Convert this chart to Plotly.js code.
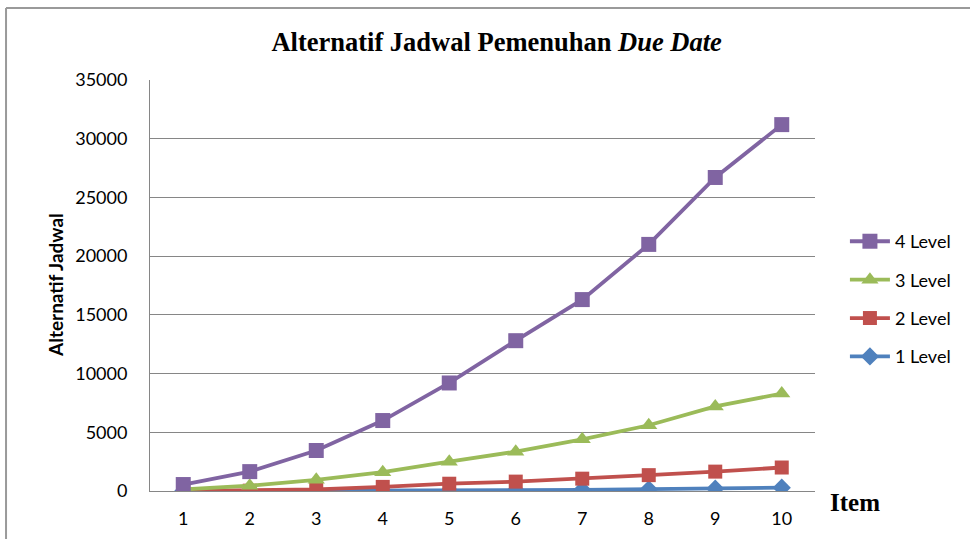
<!DOCTYPE html>
<html>
<head>
<meta charset="utf-8">
<script src="https://cdn.plot.ly/plotly-3.0.1.min.js"></script>
<style>
  html, body { margin: 0; padding: 0; background: #ffffff; }
  #chart { width: 970px; height: 539px; }
</style>
</head>
<body>
<div id="chart"></div>
<script>
// Item numbers on the horizontal axis
const items = [1, 2, 3, 4, 5, 6, 7, 8, 9, 10];

// Number of schedule alternatives per level
const level1 = [1, 2, 6, 16, 40, 70, 100, 150, 200, 280];
const level2 = [4, 30, 130, 350, 620, 800, 1050, 1350, 1650, 2000];
const level3 = [130, 450, 950, 1600, 2500, 3350, 4400, 5600, 7200, 8300];
const level4 = [550, 1650, 3450, 6000, 9200, 12800, 16300, 21000, 26700, 31200];

const seriesNames = ['1 Level', '2 Level', '3 Level', '4 Level'];
const yTicks = [0, 5000, 10000, 15000, 20000, 25000, 30000, 35000];

const bodyFont = 'Lato, "Open Sans", "Liberation Sans", sans-serif';
const serifFont = '"Liberation Serif", "Times New Roman", serif';

function series(name, values, color, symbol, size, rank) {
  return {
    type: 'scatter',
    mode: 'lines+markers',
    name: name,
    x: items,
    y: values,
    legendgroup: name,
    legendrank: rank,
    line: { color: color, width: 3.8 },
    marker: { color: color, symbol: symbol, size: size }
  };
}

// drawn 1 → 4 so the highest level sits on top; listed 4 → 1 in the legend
const traces = [
  series(seriesNames[0], level1, '#4F81BD', 'diamond', 14, 4),
  series(seriesNames[1], level2, '#C0504D', 'square', 14, 3),
  series(seriesNames[2], level3, '#9BBB59', 'triangle-up', 15, 2),
  series(seriesNames[3], level4, '#8064A2', 'square', 15, 1)
];

const layout = {
  width: 970,
  height: 539,
  margin: { l: 150, r: 155, t: 80, b: 48 },
  paper_bgcolor: '#ffffff',
  plot_bgcolor: '#ffffff',
  showlegend: true,
  title: {
    text: '<b>Alternatif Jadwal Pemenuhan <i>Due Date</i></b>',
    font: { family: serifFont, size: 26.5, color: '#000000' },
    x: 0.512,
    xanchor: 'center',
    y: 0.922,
    yanchor: 'middle'
  },
  xaxis: {
    range: [0.5, 10.5],
    tickmode: 'array',
    tickvals: items,
    ticktext: items.map(String),
    showgrid: false,
    zeroline: false,
    showline: true,
    linecolor: '#868686',
    linewidth: 1,
    ticks: '',
    ticklabelstandoff: 11,
    tickfont: { family: bodyFont, size: 18, color: '#000000' },
    fixedrange: true
  },
  yaxis: {
    range: [0, 35000],
    tickmode: 'array',
    tickvals: yTicks,
    ticktext: yTicks.map(String),
    showgrid: true,
    gridcolor: '#868686',
    gridwidth: 1,
    zeroline: false,
    showline: true,
    linecolor: '#868686',
    linewidth: 1,
    ticks: '',
    ticklabelstandoff: 18,
    tickfont: { family: bodyFont, size: 18, color: '#000000' },
    fixedrange: true
  },
  legend: {
    x: 1.045,
    xanchor: 'left',
    y: 0.652,
    yanchor: 'top',
    traceorder: 'grouped',
    tracegroupgap: 12,
    font: { family: bodyFont, size: 18, color: '#000000' },
    bgcolor: 'rgba(0,0,0,0)',
    itemwidth: 40
  },
  annotations: [
    {
      text: '<b>Alternatif Jadwal</b>',
      xref: 'paper', yref: 'paper',
      x: -0.143, y: 0.501,
      xanchor: 'center', yanchor: 'middle',
      textangle: -90,
      showarrow: false,
      font: { family: bodyFont, size: 19, color: '#000000' }
    },
    {
      text: '<b>Item</b>',
      xref: 'paper', yref: 'paper',
      x: 1.02, y: -0.027,
      xanchor: 'left', yanchor: 'middle',
      showarrow: false,
      font: { family: serifFont, size: 25, color: '#000000' }
    }
  ],
  shapes: [
    // outer chart frame (left and top edges)
    {
      type: 'line', xref: 'paper', yref: 'paper', layer: 'below',
      x0: -0.2165, x1: -0.2165, y0: 1.175, y1: -0.2,
      line: { color: '#9a9a9a', width: 2 }
    },
    {
      type: 'line', xref: 'paper', yref: 'paper', layer: 'below',
      x0: -0.2165, x1: 1.3, y0: 1.175, y1: 1.175,
      line: { color: '#9a9a9a', width: 2 }
    }
  ]
};

Plotly.newPlot('chart', traces, layout, { displayModeBar: false, staticPlot: true });
</script>
</body>
</html>
